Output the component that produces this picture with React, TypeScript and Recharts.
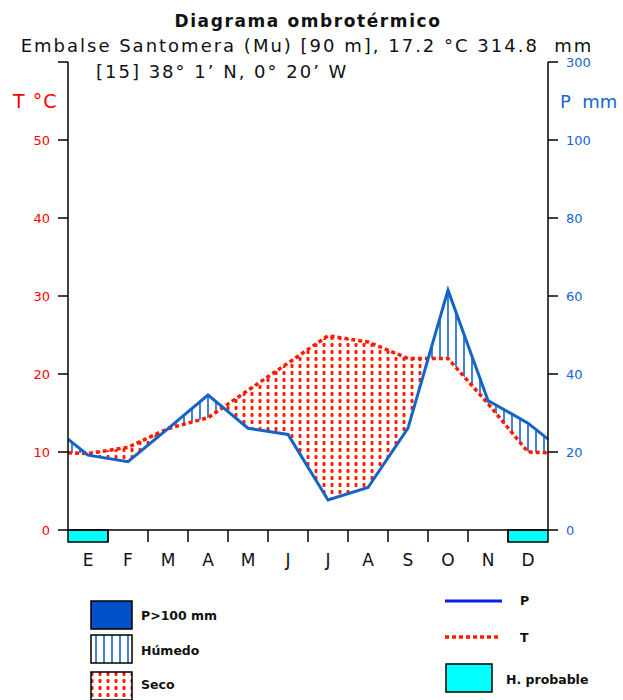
import React from 'react';
import { ComposedChart, Line, Area, XAxis, YAxis, ReferenceArea } from 'recharts';

const months = ['E', 'F', 'M', 'A', 'M', 'J', 'J', 'A', 'S', 'O', 'N', 'D'];
const tempC = [9.8, 10.6, 13.0, 14.4, 17.9, 21.4, 24.9, 24.1, 22.0, 22.0, 16.2, 10.0];
const precipMm = [19.2, 17.5, 26.0, 34.6, 26.1, 24.5, 7.7, 10.9, 26.1, 61.5, 33.2, 27.4];
// valores en los bordes izquierdo/derecho del gráfico
const edgeT = 9.9;
const edgeP = 23.3;
// meses con helada probable
const frostMonths = [1, 12];
const leftTicks = [0, 10, 20, 30, 40, 50, 60];
const rightTickLabels = [0, 20, 40, 60, 80, 100, 300];

const FONT = 'DejaVu Sans';
const RED = '#ff1a00';
const BLUE = '#1464c8';

// escala de P: 2 mm por ºC hasta 100 mm, comprimida por encima
const pToAxis = (p: number) => (p <= 100 ? p / 2 : 50 + (p - 100) / 20);

const xs = [0.5, ...months.map((_, i) => i + 1), 12.5];
const ts = [edgeT, ...tempC, edgeT];
const ps = [edgeP, ...precipMm, edgeP].map(pToAxis);

// puntos de la serie + cruces entre curvas, para el sombreado
const data: any[] = [];
for (let i = 0; i < xs.length; i++) {
  data.push({ x: xs[i], t: ts[i], p: ps[i] });
  if (i < xs.length - 1) {
    const d0 = ps[i] - ts[i];
    const d1 = ps[i + 1] - ts[i + 1];
    if (d0 * d1 < 0) {
      const f = d0 / (d0 - d1);
      const y = ts[i] + f * (ts[i + 1] - ts[i]);
      data.push({ x: xs[i] + f * (xs[i + 1] - xs[i]), t: y, p: y });
    }
  }
}
data.forEach((d) => {
  d.humid = [d.t, Math.max(d.p, d.t)];
  d.dry = [Math.min(d.p, d.t), d.t];
});

const boundaryTicks = months.slice(1).map((_, i) => i + 1.5);
const monthTicks = months.map((_, i) => i + 1);

const Patterns = () => (
  <defs>
    <pattern id="humid" patternUnits="userSpaceOnUse" width="8" height="8">
      <line x1="0" y1="0" x2="0" y2="8" stroke={BLUE} strokeWidth="1.6" />
      <line x1="8" y1="0" x2="8" y2="8" stroke={BLUE} strokeWidth="1.6" />
    </pattern>
    <pattern id="dry" patternUnits="userSpaceOnUse" width="8" height="7">
      <rect x="2.5" y="0" width="3" height="4" rx="1" fill={RED} />
    </pattern>
  </defs>
);

export default function App() {
  return (
    <div style={{ position: 'absolute', left: 0, top: 0, width: 623, height: 700, background: '#fff', fontFamily: FONT }}>
      <ComposedChart
        width={623}
        height={700}
        data={data}
        margin={{ top: 62, right: 35, left: 28, bottom: 118 }}
      >
        <Patterns />
        <XAxis
          xAxisId="b"
          dataKey="x"
          type="number"
          domain={[0.5, 12.5]}
          allowDataOverflow
          ticks={boundaryTicks}
          interval={0}
          tickFormatter={() => ''}
          tickSize={12}
          height={12}
          axisLine={{ stroke: '#000', strokeWidth: 1.5 }}
          tickLine={{ stroke: '#000', strokeWidth: 1.5 }}
        />
        <XAxis
          xAxisId="m"
          dataKey="x"
          type="number"
          domain={[0.5, 12.5]}
          allowDataOverflow
          ticks={monthTicks}
          interval={0}
          tickFormatter={(v: number) => months[v - 1]}
          axisLine={false}
          tickLine={false}
          tickSize={0}
          tickMargin={12}
          height={40}
          tick={{ fill: '#111', fontSize: 17, fontFamily: FONT }}
        />
        <YAxis
          yAxisId="l"
          type="number"
          domain={[0, 60]}
          allowDataOverflow
          ticks={leftTicks}
          interval={0}
          width={40}
          tickSize={10}
          tickMargin={8}
          tickFormatter={(v: number) => (v > 50 ? '' : String(v))}
          tick={{ fill: '#ff0000', fontSize: 13, fontFamily: FONT }}
          axisLine={{ stroke: '#000', strokeWidth: 1.5 }}
          tickLine={{ stroke: '#000', strokeWidth: 1.5 }}
        />
        <YAxis
          yAxisId="r"
          orientation="right"
          type="number"
          domain={[0, 60]}
          allowDataOverflow
          ticks={leftTicks}
          interval={0}
          width={40}
          tickSize={10}
          tickMargin={8}
          tickFormatter={(_v: number, i: number) => String(rightTickLabels[i])}
          tick={{ fill: '#1464d2', fontSize: 13, fontFamily: FONT }}
          axisLine={{ stroke: '#000', strokeWidth: 1.5 }}
          tickLine={{ stroke: '#000', strokeWidth: 1.5 }}
        />
        <Area
          xAxisId="b"
          yAxisId="l"
          type="linear"
          dataKey="humid"
          stroke="none"
          fill="url(#humid)"
          fillOpacity={1}
          isAnimationActive={false}
        />
        <Area
          xAxisId="b"
          yAxisId="l"
          type="linear"
          dataKey="dry"
          stroke="none"
          fill="url(#dry)"
          fillOpacity={1}
          isAnimationActive={false}
        />
        {frostMonths.map((m) => (
          <ReferenceArea
            key={m}
            xAxisId="b"
            yAxisId="l"
            x1={m - 0.5}
            x2={m + 0.5}
            y1={-1.54}
            y2={0}
            ifOverflow="visible"
            fill="#00ffff"
            fillOpacity={1}
            stroke="#000"
            strokeWidth={1.5}
          />
        ))}
        <Line
          xAxisId="b"
          yAxisId="l"
          type="linear"
          dataKey="t"
          stroke={RED}
          strokeWidth={3.5}
          strokeDasharray="4 3"
          dot={false}
          isAnimationActive={false}
        />
        <Line
          xAxisId="b"
          yAxisId="l"
          type="linear"
          dataKey="p"
          stroke={BLUE}
          strokeWidth={3}
          dot={false}
          isAnimationActive={false}
        />
      </ComposedChart>

      <svg
        width={623}
        height={700}
        style={{ position: 'absolute', left: 0, top: 0, pointerEvents: 'none' }}
        fontFamily={FONT}
      >
        <Patterns />
        <text x={308} y={26.5} textAnchor="middle" fontSize={17} fontWeight="bold" letterSpacing={1.6} fill="#111">
          Diagrama ombrotérmico
        </text>
        <text x={307} y={51.5} textAnchor="middle" fontSize={18} letterSpacing={2} fill="#111" style={{ whiteSpace: 'pre' }}>
          {'Embalse Santomera (Mu) [90 m], 17.2 °C 314.8  mm'}
        </text>
        <text x={96} y={78} fontSize={18} letterSpacing={2} fill="#111">
          [15] 38° 1’ N, 0° 20’ W
        </text>
        <text x={13} y={108} fontSize={19} letterSpacing={1} fill="#ff0000" style={{ whiteSpace: 'pre' }}>
          {'T °C'}
        </text>
        <text x={560} y={108} fontSize={18} fill="#1464d2" style={{ whiteSpace: 'pre' }}>
          {'P  mm'}
        </text>

        <g fontSize={12.5} fontWeight="bold" fill="#111">
          <rect x={91} y={601} width={41} height={28} fill="#0050c8" stroke="#000" strokeWidth={1.5} />
          <text x={141} y={619.5}>P&gt;100 mm</text>
          <rect x={91} y={635} width={41} height={28} fill="url(#humid)" stroke="#000" strokeWidth={1.5} />
          <text x={141} y={654.5}>Húmedo</text>
          <rect x={91} y={672} width={41} height={28} fill="url(#dry)" stroke="#000" strokeWidth={1.5} />
          <text x={141} y={688.5}>Seco</text>

          <line x1={445} y1={601} x2={502} y2={601} stroke="#0a1ee6" strokeWidth={3} />
          <text x={520} y={605}>P</text>
          <line x1={445} y1={637} x2={500} y2={637} stroke={RED} strokeWidth={3.5} strokeDasharray="4 3" />
          <text x={520} y={642}>T</text>
          <rect x={446} y={664} width={46} height={28} fill="#00ffff" stroke="#000" strokeWidth={1.5} />
          <text x={506} y={684}>H. probable</text>
        </g>
      </svg>
    </div>
  );
}
